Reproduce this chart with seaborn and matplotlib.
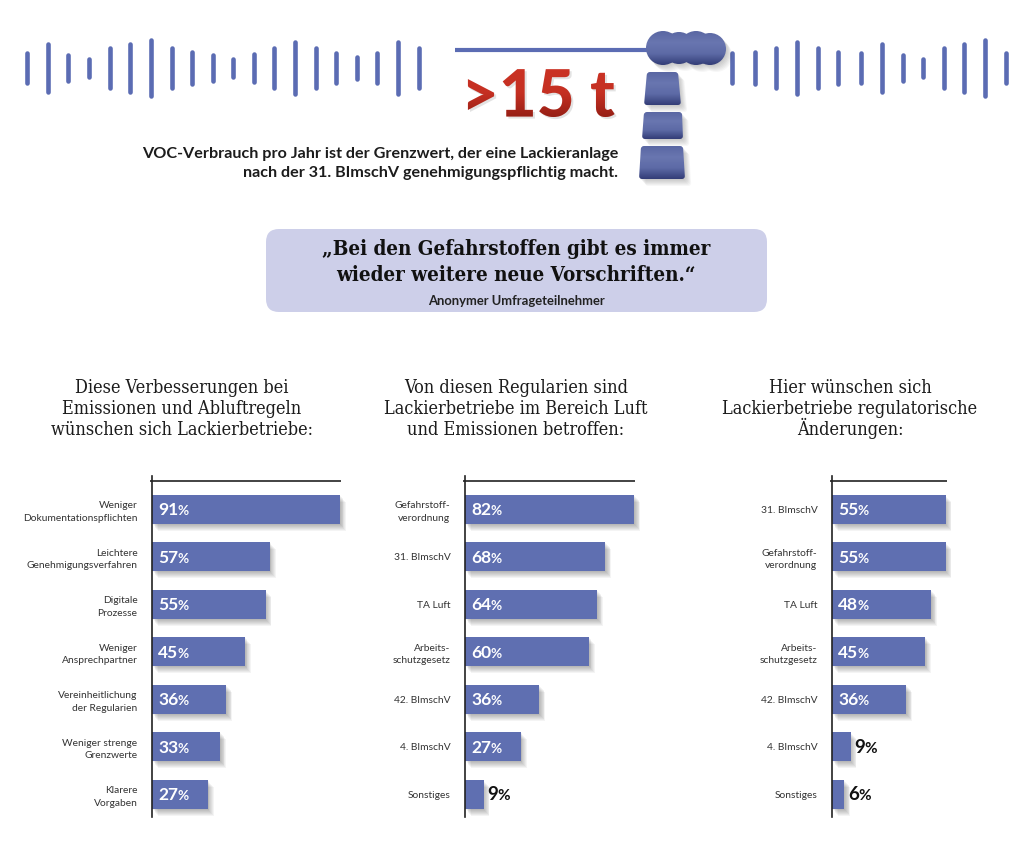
import numpy as np
import matplotlib
matplotlib.use("Agg")
import matplotlib.pyplot as plt
import matplotlib.patheffects as pe
from matplotlib.colors import LinearSegmentedColormap
from matplotlib.font_manager import FontProperties
from matplotlib.patches import FancyBboxPatch, PathPatch
from matplotlib.path import Path
from matplotlib.textpath import TextPath
from matplotlib.transforms import Affine2D
import seaborn as sns

# Survey results
labels_wishes = ["Weniger\nDokumentationspflichten", "Leichtere\nGenehmigungsverfahren", "Digitale\nProzesse",
                 "Weniger\nAnsprechpartner", "Vereinheitlichung\nder Regularien", "Weniger strenge\nGrenzwerte",
                 "Klarere\nVorgaben"]
values_wishes = [91, 57, 55, 45, 36, 33, 27]

labels_affected = ["Gefahrstoff-\nverordnung", "31. BImschV", "TA Luft", "Arbeits-\nschutzgesetz",
                   "42. BImschV", "4. BImschV", "Sonstiges"]
values_affected = [82, 68, 64, 60, 36, 27, 9]

labels_changes = ["31. BImschV", "Gefahrstoff-\nverordnung", "TA Luft", "Arbeits-\nschutzgesetz",
                  "42. BImschV", "4. BImschV", "Sonstiges"]
values_changes = [55, 55, 48, 45, 36, 9, 6]

title_wishes = ["Diese Verbesserungen bei", "Emissionen und Abluftregeln", "wünschen sich Lackierbetriebe:"]
title_affected = ["Von diesen Regularien sind", "Lackierbetriebe im Bereich Luft", "und Emissionen betroffen:"]
title_changes = ["Hier wünschen sich", "Lackierbetriebe regulatorische", "Änderungen:"]

# Sound-wave style ornament on both sides of the header
wave_left_x = [27, 48, 68, 89, 110, 130, 151, 172, 192, 213, 233, 254, 274, 295, 316, 336, 357, 377, 398, 419]
wave_left_len = [34, 53, 30, 22, 45, 53, 61, 45, 37, 30, 22, 32, 45, 56, 45, 34, 27, 34, 56, 45]
wave_right_x = [732, 755, 776, 797, 818, 838, 861, 882, 903, 923, 944, 964, 985, 1006]
wave_right_len = [35, 37, 45, 56, 45, 37, 35, 53, 30, 22, 45, 53, 61, 35]

BAR = "#5f6fb1"
WAVE = "#5b6cb3"
W, H = 1024, 850
DPI = 100

sns.set_theme(style="white")
plt.rcParams["font.family"] = ["Lato", "DejaVu Sans"]

fig = plt.figure(figsize=(W / DPI, H / DPI), dpi=DPI, facecolor="white")

# Full-figure layer in pixel units for the header graphics
bg = fig.add_axes([0, 0, 1, 1], zorder=0)
bg.set_xlim(0, W)
bg.set_ylim(H, 0)
bg.axis("off")

steel = LinearSegmentedColormap.from_list("steel", ["#5a67a3", "#6976b0", "#5d6aa6", "#333d77"])
shade = LinearSegmentedColormap.from_list("shade", [(0.35, 0.02, 0.0, 0.0), (0.35, 0.02, 0.0, 0.05),
                                                    (0.3, 0.02, 0.0, 0.42)])


def gradient_fill(path, cmap, shadow=True, zorder=3):
    """Fill a path in pixel units with a top-to-bottom gradient."""
    box = path.get_extents()
    if shadow:
        for off in range(1, 8):
            bg.add_patch(PathPatch(path.transformed(Affine2D().translate(off * 0.9, off)),
                                   fc="black", lw=0, alpha=0.03, zorder=zorder - 1))
    im = bg.imshow(np.linspace(0, 1, 128)[:, None], extent=(box.x0, box.x1, box.y1, box.y0),
                   cmap=cmap, aspect="auto", zorder=zorder, interpolation="bilinear")
    im.set_clip_path(path, bg.transData)


def rounded_polygon(corners, radius=3.0):
    """Closed path through the given corners with softened vertices."""
    pts = np.array(corners, dtype=float)
    verts, codes = [], []
    for i, p in enumerate(pts):
        prev_dir = pts[i - 1] - p
        next_dir = pts[(i + 1) % len(pts)] - p
        a = p + prev_dir / np.linalg.norm(prev_dir) * radius
        b = p + next_dir / np.linalg.norm(next_dir) * radius
        verts += [a, p, b]
        codes += [Path.MOVETO if i == 0 else Path.LINETO, Path.CURVE3, Path.CURVE3]
    verts.append(verts[0])
    codes.append(Path.CLOSEPOLY)
    return Path(verts, codes)


WAVE_PX = 4.6
for xs, lens in [(wave_left_x, wave_left_len), (wave_right_x, wave_right_len)]:
    half = (np.array(lens) - WAVE_PX) / 2
    bg.vlines(xs, 68 - half, 68 + half, color=WAVE, lw=WAVE_PX * 72 / DPI, capstyle="round")

# Chimney with smoke cloud and the pipe leading to it
bg.plot([455, 650], [50, 50], color=WAVE, lw=3, solid_capstyle="butt", zorder=2)
cloud = Path.make_compound_path(*[
    Path.circle((cx, cy), r)
    for cx, cy, r in [(663, 48, 17), (679, 48, 16), (696, 48, 17), (710, 49, 16)]
])
gradient_fill(cloud, steel)
for corners in [[(647, 72), (678, 72), (681, 105), (644, 105)],
                [(644, 112), (682, 112), (683, 139), (642, 139)],
                [(641, 146), (683, 146), (685, 179), (639, 179)]]:
    gradient_fill(rounded_polygon(corners), steel)

# Headline figure: the text itself, darkened towards its baseline
headline_font = FontProperties(family="Lato", weight="black")
headline_size = 47
headline_x, headline_y = 461, 116.5
bg.text(headline_x, headline_y, ">15 t", fontproperties=headline_font, fontsize=headline_size, color="#ca3224",
        va="baseline", ha="left", zorder=4,
        path_effects=[pe.SimplePatchShadow(offset=(1.5, -1.5), alpha=0.16, shadow_rgbFace="#555555"), pe.Normal()])
headline_path = TextPath((0, 0), ">15 t", size=headline_size, prop=headline_font).transformed(
    Affine2D().scale(DPI / 72, -DPI / 72).translate(headline_x, headline_y))
gradient_fill(headline_path, shade, shadow=False, zorder=5)

bg.text(618, 154, "VOC-Verbrauch pro Jahr ist der Grenzwert, der eine Lackieranlage", ha="right", va="center",
        fontsize=11.6, fontweight="bold", color="#1c1c1c")
bg.text(618, 173, "nach der 31. BImschV genehmigungspflichtig macht.", ha="right", va="center",
        fontsize=11.6, fontweight="bold", color="#1c1c1c")

# Quote box
serif = dict(family="DejaVu Serif", stretch="condensed")
bg.add_patch(FancyBboxPatch((266 + 13, 229 + 13), 501 - 26, 83 - 26, boxstyle="round,pad=13,rounding_size=13",
                            fc="#cdcfe9", ec="none", zorder=1))
bg.text(516, 249, "„Bei den Gefahrstoffen gibt es immer", ha="center", va="center", fontsize=14.8, fontweight="bold",
        color="#111111", zorder=2, **serif)
bg.text(516, 275, "wieder weitere neue Vorschriften.“", ha="center", va="center", fontsize=14.8, fontweight="bold",
        color="#111111", zorder=2, **serif)
bg.text(516, 301, "Anonymer Umfrageteilnehmer", ha="center", va="center", fontsize=9.4, fontweight="bold",
        color="#222222", zorder=2)

# One horizontal bar panel per question
PX_PER_PCT = 2.066
ROW = 47.5
AX_TOP, AX_BOTTOM = 476, 817
FIRST_ROW = 509.2
TITLE_BASELINES = [392.5, 414, 435]
panels = [
    (152, 182, title_wishes, labels_wishes, values_wishes, 91.3),
    (465, 516, title_affected, labels_affected, values_affected, 82.5),
    (832, 850, title_changes, labels_changes, values_changes, 55.5),
]

for x0, title_x, title, labels, values, rule_end in panels:
    ax_w = min(100 * PX_PER_PCT, W - x0 - 2)
    ax = fig.add_axes([x0 / W, 1 - AX_BOTTOM / H, ax_w / W, (AX_BOTTOM - AX_TOP) / H], zorder=2)
    ax.patch.set_alpha(0)
    sns.barplot(x=values, y=labels, orient="h", color=BAR, saturation=1, width=29 / ROW, linewidth=0, ax=ax)
    ax.set_xlim(0, ax_w / PX_PER_PCT)
    ax.set_ylim((AX_BOTTOM - FIRST_ROW) / ROW, (AX_TOP - FIRST_ROW) / ROW)
    ax.set_xlabel("")
    ax.set_ylabel("")
    ax.set_xticks([])
    sns.despine(ax=ax, top=True, right=True, bottom=True)
    ax.spines["left"].set_color("#222222")
    ax.spines["left"].set_linewidth(1.2)
    ax.spines["left"].set_zorder(6)
    ax.hlines((481 - FIRST_ROW) / ROW, -1, rule_end, color="#222222", lw=1.2, clip_on=False)
    ax.tick_params(axis="y", length=0, pad=10.5)
    for tick in ax.get_yticklabels():
        tick.set_fontsize(7.4)
        tick.set_color("#333333")
        tick.set_linespacing(1.5)

    # Soft drop shadow towards the lower right of every bar
    for bar in ax.patches:
        bar.set_path_effects(
            [pe.SimplePatchShadow(offset=(i * 0.6, -i * 0.7), alpha=0.045, shadow_rgbFace="black")
             for i in range(7, 0, -1)] + [pe.Normal()])

    # Percentages: white inside long bars, black beside short ones, with a smaller % sign
    for i, v in enumerate(values):
        digits = str(v)
        inside = v >= 15
        base = 0 if inside else v
        start = 4.5 if inside else 2.5
        colour = "white" if inside else "#111111"
        size = 12.5 if inside else 13.5
        pct_size = 9.8 if inside else 11
        y_off = -4.5
        ax.annotate(digits, (base, i), xytext=(start, y_off), textcoords="offset points", color=colour,
                    fontsize=size, fontweight="bold", va="baseline", ha="left", annotation_clip=False)
        ax.annotate("%", (base, i), xytext=(start + len(digits) * size * 0.565, y_off), textcoords="offset points",
                    color=colour, fontsize=pct_size, fontweight="bold", va="baseline", ha="left",
                    annotation_clip=False)

    for line, y in zip(title, TITLE_BASELINES):
        bg.text(title_x, y, line, ha="center", va="baseline", fontsize=13, color="#1c1c1c", **serif)

fig.savefig("out.png", dpi=DPI, facecolor="white")
